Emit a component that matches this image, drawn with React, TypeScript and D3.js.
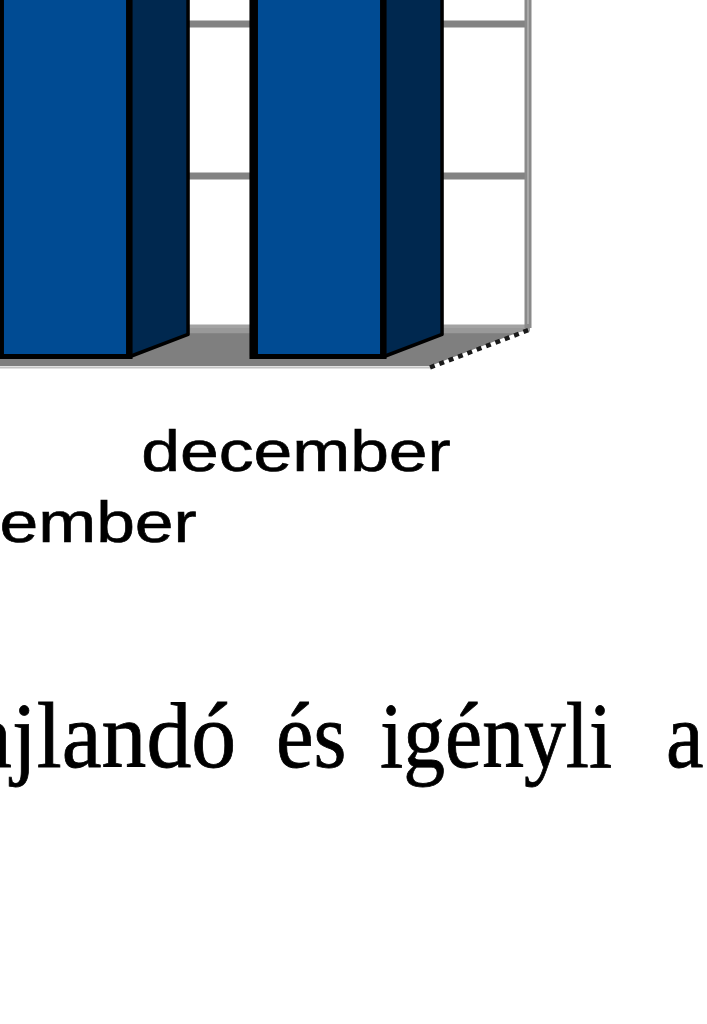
import * as d3 from 'd3';

// chart data (only the part visible in the picture)
const months = ['november', 'december'];
const values = [42, 44];
const valueTicks = [0, 10, 20, 30, 40, 50];

// page text under the chart, one entry per justified word
const words = ['ajlandó', 'és', 'igényli', 'a'];
const wordX = [-28, 276, 380, 666];
const wordScale = [0.955, 0.9, 0.89, 0.9];

const W = 707;
const H = 1024;
const floorY = 366;
const DX = 100; // depth offset of the 3D box
const DY = 38;
const zFront = 0.25;
const zBack = 0.83;

const x = d3.scaleBand<string>()
    .domain(months)
    .range([-88, 420])
    .paddingInner(0.48)
    .paddingOuter(0.24);

const y = d3.scaleLinear().domain([0, 50]).range([0, 760]);

// project a floor point (x along the front, z depth 0..1, h height) onto the screen
const proj = (px: number, z: number, h: number): [number, number] =>
    [px + z * DX, floorY - z * DY - h];

const pts = (arr: [number, number][]) => arr.map(p => p.join(',')).join(' ');

const App = () => {
    const bw = x.bandwidth();
    const backRight = proj(430, 1, 0);

    return (
        <svg width={W} height={H} style={{position: 'absolute', left: 0, top: 0, background: '#fff'}}>
            {/* back wall gridlines */}
            {valueTicks.map(t => {
                const [x1, y1] = proj(-700, 1, y(t));
                const [x2, y2] = proj(430, 1, y(t));
                return <line key={t} x1={x1} y1={y1} x2={x2} y2={y2}
                             stroke={t === 0 ? '#a3a3a3' : '#838383'} strokeWidth={7}/>;
            })}
            {/* right edge of the back wall */}
            <line x1={backRight[0] - 2} y1={backRight[1]} x2={backRight[0] - 2} y2={-10}
                  stroke="#8a8a8a" strokeWidth={7}/>
            <line x1={backRight[0] - 2} y1={backRight[1] - 4} x2={backRight[0] - 2} y2={-10}
                  stroke="#a8a8a8" strokeWidth={2}/>

            {/* floor */}
            <polygon points={pts([proj(-700, 0, 0), proj(430, 0, 0), proj(430, 1, 0), proj(-700, 1, 0)])}
                     fill="#7f7f7f"/>
            <polygon points={pts([proj(-700, 1, 0), proj(430, 1, 0), proj(430, 0.86, 0), proj(-700, 0.86, 0)])}
                     fill="#999"/>
            <line x1={-10} y1={floorY + 1.5} x2={430} y2={floorY + 1.5} stroke="#c4c4c4" strokeWidth={2}/>
            <line x1={430} y1={floorY + 1.5} x2={backRight[0]} y2={backRight[1] + 1.5}
                  stroke="#1a1a1a" strokeWidth={4.5} strokeDasharray="5 5"/>

            {/* bars */}
            {months.map((m, i) => {
                const x0 = x(m) as number;
                const h = y(values[i]);
                const fb = proj(x0, zFront, 0);
                const ft = proj(x0, zFront, h);
                const sb1 = proj(x0 + bw, zFront, 0);
                const sb2 = proj(x0 + bw, zBack, 0);
                const st2 = proj(x0 + bw, zBack, h);
                const st1 = proj(x0 + bw, zFront, h);
                return (
                    <g key={m}>
                        <polygon points={pts([sb1, sb2, st2, st1])} fill="#00284f" stroke="#000" strokeWidth={3.5}
                                 strokeLinejoin="round"/>
                        <rect x={ft[0]} y={ft[1]} width={bw} height={h} fill="#004b93" stroke="#000"
                              strokeWidth={5}/>
                        <line x1={fb[0] + 2} y1={fb[1]} x2={ft[0] + 2} y2={ft[1]} stroke="#000" strokeWidth={8}/>
                        <line x1={sb1[0] - 1} y1={sb1[1]} x2={st1[0] - 1} y2={st1[1]} stroke="#000" strokeWidth={6}/>
                    </g>
                );
            })}

            {/* category labels, staggered in two rows */}
            {months.map((m, i) => {
                const cx = (x(m) as number) + bw / 2 + 3;
                const row = (months.length - 1 - i) % 2;
                return (
                    <text key={m} transform={`translate(${cx},${471 + row * 71}) scale(1.2,1)`}
                          textAnchor="middle" fontFamily="'Liberation Sans', Arial, sans-serif"
                          fontSize={58} fill="#000" stroke="#000" strokeWidth={0.6}>{m}</text>
                );
            })}

            {/* body text below the chart */}
            {words.map((w, i) => (
                <text key={w} transform={`translate(${wordX[i]},767) scale(${wordScale[i]},1)`}
                      fontFamily="'Liberation Serif', 'Times New Roman', serif" fontSize={94} fill="#000"
                      stroke="#000" strokeWidth={0.8}>{w}</text>
            ))}
        </svg>
    );
};

export default App;
